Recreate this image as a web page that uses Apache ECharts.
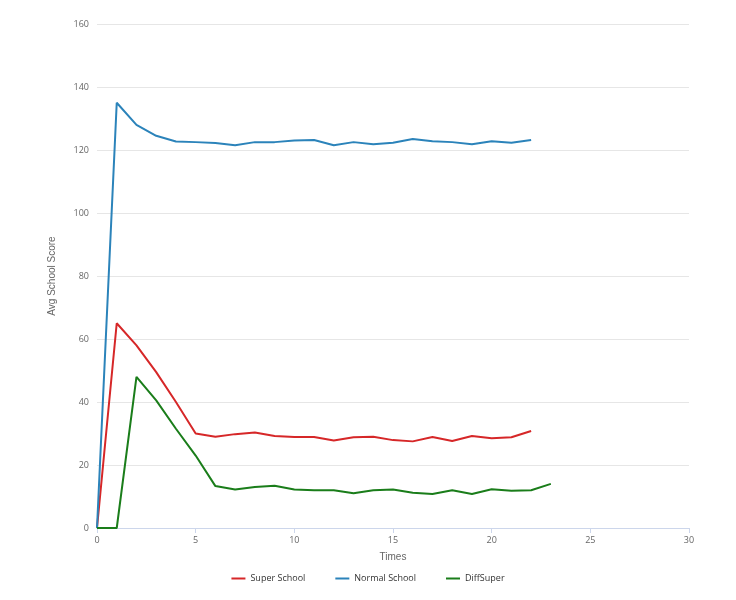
<!DOCTYPE html>
<html><head><meta charset="utf-8">
<script src="https://cdn.jsdelivr.net/npm/echarts@6/dist/echarts.min.js"></script>
<style>html,body{margin:0;padding:0;}#c{width:736px;height:600px;}</style>
</head><body><div id="c"></div>
<script>
const superSchool = [0,65,58,49.5,40,30,29,29.8,30.3,29.2,28.9,28.9,27.8,28.8,29,27.9,27.5,28.9,27.6,29.2,28.5,28.8,30.8];
const normalSchool = [0,135,128,124.5,122.7,122.5,122.2,121.5,122.5,122.5,123,123.2,121.5,122.5,121.8,122.3,123.5,122.8,122.5,121.8,122.8,122.3,123.2];
const diffSuper = [0,0,48,40.5,31.5,23,13.3,12.2,13,13.4,12.2,12,12,11,12,12.2,11.2,10.8,12,10.8,12.3,11.8,12,14];
const pairs = a => a.map((v,i)=>[i,v]);
const chart = echarts.init(document.getElementById('c'));
const txt = {color:'#666', fontSize:9, fontFamily:'Open Sans'};
chart.setOption({
  animation:false,
  grid:{left:97,right:47,top:24,bottom:72},
  legend:{bottom:12,itemWidth:14,itemHeight:2,icon:'rect',itemGap:30,textStyle:{color:'#333',fontSize:9,fontFamily:'Open Sans'},
    data:['Super School','Normal School','DiffSuper']},
  xAxis:{type:'value',min:0,max:30,interval:5,name:'Times',nameLocation:'middle',nameGap:24,nameTextStyle:{color:'#666',fontSize:10},
    axisLine:{lineStyle:{color:'#ccd6eb'}},axisTick:{show:true,lineStyle:{color:'#ccd6eb'}},splitLine:{show:false},axisLabel:txt},
  yAxis:{type:'value',min:0,max:160,interval:20,name:'Avg School Score',nameLocation:'middle',nameGap:40,nameTextStyle:{color:'#666',fontSize:10},
    axisLine:{show:false},axisTick:{show:false},splitLine:{lineStyle:{color:'#e6e6e6'}},axisLabel:txt},
  series:[
    {name:'Super School',type:'line',data:pairs(superSchool),showSymbol:false,symbol:'none',color:'#d62728',lineStyle:{width:2}},
    {name:'Normal School',type:'line',data:pairs(normalSchool),showSymbol:false,symbol:'none',color:'#2b83ba',lineStyle:{width:2}},
    {name:'DiffSuper',type:'line',data:pairs(diffSuper),showSymbol:false,symbol:'none',color:'#1a7d1a',lineStyle:{width:2}}
  ]
});
</script></body></html>
